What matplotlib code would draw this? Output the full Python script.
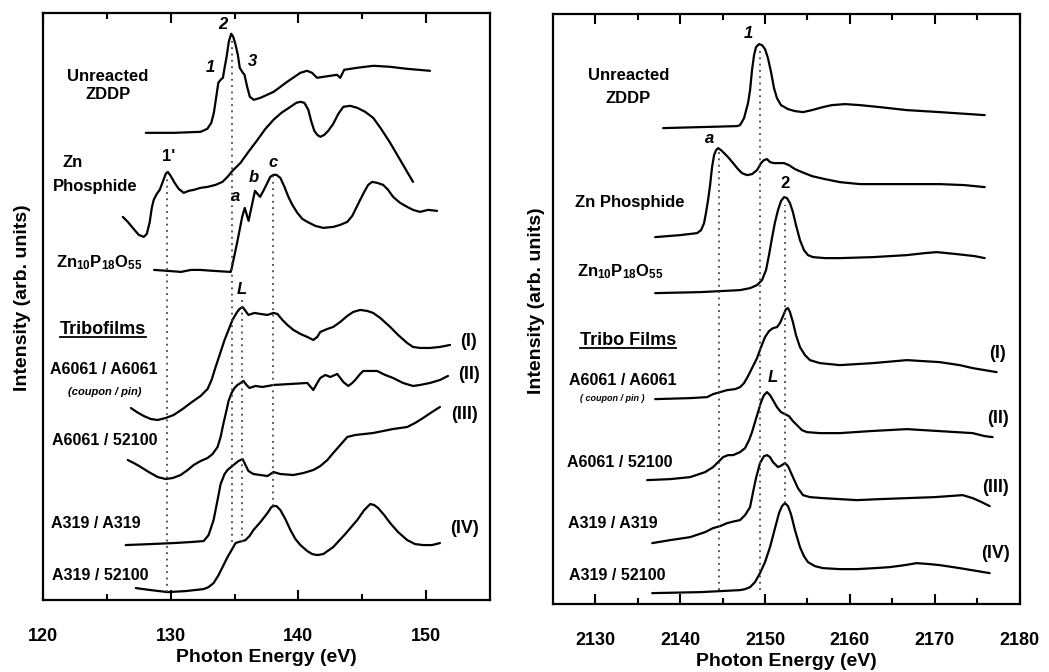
import matplotlib
matplotlib.use("Agg")
import matplotlib.pyplot as plt
from matplotlib.lines import Line2D

plt.rcParams['font.family'] = ['Liberation Sans', 'DejaVu Sans']
plt.rcParams['font.weight'] = 'bold'
plt.rcParams['mathtext.fontset'] = 'custom'
plt.rcParams['mathtext.rm'] = 'Liberation Sans:bold'
plt.rcParams['mathtext.bf'] = 'Liberation Sans:bold'
plt.rcParams['mathtext.it'] = 'Liberation Sans:italic:bold'

# ---------------- Left panel: P L-edge (energy eV, intensity arb. units) ----------------
zddpL_E = [128.05, 128.44, 130.26, 132.34, 132.87, 133.18, 133.38, 133.57, 133.73, 133.91, 134.09, 134.22,
           134.38, 134.55, 134.74, 134.90, 135.08, 135.26, 135.41, 135.60, 135.78, 135.99, 136.20, 136.51,
           137.03, 138.07, 139.12, 140.16, 140.68, 141.07, 141.46, 141.98, 142.5, 143.02, 143.28, 143.59,
           144.59, 145.88, 147.19, 148.49, 150.31]
zddpL_I = [467, 467, 467, 468, 471, 477, 487, 503, 517, 520, 522, 532,
           543, 558, 566, 563, 555, 545, 532, 528, 525, 513, 503, 500,
           502, 508, 518, 527, 529, 527, 522, 523, 524, 525, 522, 530,
           532, 534, 533, 531, 529]

phosL_E = [126.25, 126.64, 127.03, 127.5, 127.89, 128.13, 128.36, 128.52, 128.67, 128.91, 129.14, 129.38,
           129.61, 129.77, 130.0, 130.31, 130.63, 131.02, 131.41, 131.8, 132.34, 132.89, 133.52, 134.06,
           134.45, 134.84, 135.47, 136.09, 136.8, 137.42, 138.05, 138.67, 139.38, 139.84, 140.16, 140.47,
           140.78, 141.02, 141.25, 141.48, 141.72, 142.03, 142.34, 142.73, 143.13, 143.52, 144.06, 144.61,
           145.23, 145.86, 146.48, 147.19, 147.97, 148.52, 148.98]
phosL_I = [383, 378, 372, 365, 363, 366, 378, 392, 400, 406, 410, 418,
           426, 428, 424, 417, 411, 407, 409, 410, 412, 413, 415, 418,
           423, 429, 437, 448, 460, 471, 480, 487, 493, 497, 498, 497,
           490, 478, 469, 465, 463, 465, 469, 476, 486, 493, 494, 492,
           488, 482, 471, 457, 440, 428, 418]

znpoL_E = [128.7, 129.8, 130.8, 131.6, 132.3, 133.4, 134.7, 134.8, 135.2, 135.6, 135.8, 136.1, 136.5, 136.6,
           137.0, 137.3, 137.8, 138.05, 138.28, 138.59, 138.91, 139.22, 139.53, 139.92, 140.31, 140.7,
           141.33, 141.95, 142.73, 143.28, 143.83, 144.22, 144.53, 144.84, 145.16, 145.47, 145.78, 146.17,
           146.64, 147.03, 147.42, 147.97, 148.52, 148.98, 149.53, 150.16, 150.86]
znpoL_I = [330, 329, 328, 330, 330, 329, 328, 333, 357, 383, 392, 379, 403, 409,
           403, 410, 423, 425, 425, 422, 413, 403, 395, 387, 381, 378,
           374, 372, 373, 375, 378, 384, 392, 400, 408, 415, 418, 417,
           415, 410, 403, 397, 393, 390, 388, 390, 389]

film1L_E = [126.88, 127.34, 127.89, 128.44, 128.98, 129.61, 130.23, 130.94, 131.56, 132.34, 132.89, 133.2,
            133.52, 133.91, 134.22, 134.53, 134.84, 135.16, 135.39, 135.63, 135.86, 136.09, 136.56, 137.03,
            137.58, 138.05, 138.36, 138.75, 139.14, 139.61, 140.16, 140.7, 141.17, 141.48, 141.72, 142.27,
            142.73, 143.28, 143.83, 144.3, 144.84, 145.39, 145.86, 146.41, 147.19, 147.81, 148.52, 148.98,
            149.53, 150.31, 151.09, 151.88]
film1L_I = [192, 188, 184, 181, 180, 182, 185, 191, 197, 204, 211, 220,
            233, 248, 260, 270, 280, 287, 291, 293, 289, 285, 287, 286,
            285, 287, 286, 280, 275, 270, 266, 263, 260, 263, 268, 271,
            273, 278, 284, 288, 290, 289, 287, 282, 273, 265, 257, 253,
            252, 252, 253, 255]

film2L_E = [126.64, 127.11, 127.66, 128.28, 128.98, 129.61, 130.16, 130.78, 131.33, 131.8, 132.34, 132.89,
            133.28, 133.67, 133.91, 134.14, 134.38, 134.53, 134.77, 135.0, 135.23, 135.47, 135.7, 135.94,
            136.17, 136.64, 137.19, 138.05, 139.38, 140.7, 141.17, 141.48, 141.72, 142.11, 142.5, 143.05,
            143.52, 143.91, 144.22, 144.45, 144.84, 145.08, 145.63, 146.17, 146.8, 147.42, 148.2, 148.98,
            149.53, 150.31, 151.09, 151.72]
film2L_I = [140, 137, 133, 128, 123, 121, 122, 125, 130, 135, 139, 142,
            146, 153, 163, 177, 190, 199, 207, 212, 215, 217, 219, 215,
            212, 214, 213, 215, 216, 217, 210, 217, 222, 225, 223, 226,
            218, 214, 217, 220, 226, 229, 229, 229, 225, 222, 217, 214,
            215, 217, 220, 224]

film3L_E = [126.48, 128.44, 130.23, 131.56, 132.58, 132.97, 133.36, 133.67, 133.91, 134.22, 134.45, 134.92,
            135.31, 135.63, 135.86, 136.09, 136.48, 137.03, 137.58, 138.05, 138.59, 139.61, 140.39, 141.17,
            141.72, 142.27, 142.73, 143.28, 143.83, 144.45, 145.86, 147.42, 148.52, 149.14, 149.77, 150.47,
            151.09]
film3L_I = [55, 56, 57, 58, 59, 65, 80, 100, 116, 126, 130, 135,
            139, 141, 135, 129, 126, 125, 124, 128, 126, 125, 127, 130,
            134, 140, 147, 155, 163, 165, 167, 171, 173, 177, 182, 188,
            193]

film4L_E = [127.27, 128.44, 129.77, 131.17, 132.58, 132.97, 133.36, 133.75, 134.14, 134.45, 134.77, 135.08,
            135.31, 135.63, 135.86, 136.17, 136.48, 137.03, 137.58, 137.89, 138.05, 138.28, 138.59, 138.98,
            139.38, 139.77, 140.16, 140.7, 141.09, 141.48, 141.95, 142.73, 143.67, 144.61, 145.16, 145.63,
            145.94, 146.25, 146.72, 147.19, 147.81, 148.52, 149.14, 149.77, 150.47, 151.09]
film4L_I = [12, 10, 8, 9, 11, 13, 17, 25, 35, 43, 50, 57,
            58, 59, 60, 64, 70, 78, 87, 93, 94, 94, 90, 81,
            70, 61, 55, 49, 46, 45, 46, 53, 66, 80, 90, 96,
            95, 92, 85, 77, 68, 60, 56, 55, 55, 57]

dotL_E = [129.7, 134.8, 135.6, 138.0]
dotL_top = [425, 562, 300, 425]
dotL_bot = [8, 58, 58, 94]

# ---------------- Right panel: Zn L-edge ----------------
zddpR_E = [2138.0, 2142.35, 2146.71, 2147.06, 2147.53, 2148.0, 2148.24, 2148.47, 2148.71, 2148.94, 2149.29,
           2149.65, 2150.0, 2150.35, 2150.71, 2151.06, 2151.41, 2151.88, 2152.71, 2153.53, 2154.47, 2155.53,
           2156.82, 2157.88, 2159.41, 2161.18, 2163.53, 2166.71, 2170.59, 2175.88]
zddpR_I = [476, 477, 478, 479, 486, 501, 514, 534, 549, 557, 560,
           559, 555, 546, 532, 516, 506, 499, 495, 493, 492, 494,
           497, 499, 500, 499, 497, 494, 492, 489]

phosR_E = [2137.06, 2140.0, 2142.0, 2142.47, 2142.82, 2143.06, 2143.29, 2143.53, 2143.76, 2144.0, 2144.24,
           2144.47, 2144.82, 2145.18, 2145.65, 2146.24, 2146.82, 2147.29, 2147.88, 2148.47, 2149.06, 2149.53,
           2149.88, 2150.24, 2150.59, 2151.06, 2151.65, 2152.24, 2152.82, 2153.53, 2154.35, 2155.53, 2157.06,
           2158.82, 2161.18, 2163.53, 2167.06, 2170.59, 2173.53, 2175.88]
phosR_I = [367, 369, 371, 374, 381, 392, 404, 419, 437, 449, 454,
           456, 454, 451, 447, 441, 435, 431, 429, 430, 434, 441,
           444, 445, 442, 441, 441, 441, 439, 435, 432, 428, 425,
           422, 420, 420, 420, 420, 419, 417]

znpoR_E = [2137.06, 2142.35, 2147.06, 2148.24, 2149.06, 2149.65, 2150.12, 2150.47, 2150.82, 2151.18, 2151.53,
           2151.88, 2152.24, 2152.59, 2152.94, 2153.29, 2153.65, 2154.12, 2154.59, 2155.06, 2155.65, 2157.06,
           2158.82, 2162.71, 2166.71, 2168.82, 2170.24, 2172.59, 2174.71, 2175.88]
znpoR_I = [311, 312, 314, 316, 319, 324, 334, 349, 366, 382, 394,
           403, 407, 406, 401, 392, 379, 364, 354, 349, 347, 346,
           346, 347, 349, 351, 352, 350, 348, 346]

film1R_E = [2137.06, 2141.18, 2143.18, 2143.88, 2144.71, 2145.53, 2146.47, 2147.06, 2147.53, 2148.0, 2148.47,
            2149.06, 2149.53, 2150.0, 2150.47, 2150.94, 2151.41, 2151.76, 2152.12, 2152.47, 2152.71, 2152.94,
            2153.29, 2153.65, 2154.12, 2154.71, 2155.29, 2156.47, 2158.82, 2162.71, 2166.71, 2170.59, 2172.94,
            2174.47, 2177.29]
film1R_I = [205, 206, 207, 210, 212, 214, 215, 217, 221, 228, 236,
            246, 257, 267, 273, 276, 277, 281, 288, 295, 296, 292,
            282, 269, 257, 249, 244, 241, 239, 241, 244, 242, 239,
            236, 232]

film2R_E = [2136.12, 2138.82, 2141.18, 2142.94, 2143.88, 2144.47, 2145.06, 2145.65, 2146.24, 2147.06, 2147.65,
            2148.12, 2148.47, 2148.82, 2149.18, 2149.53, 2149.88, 2150.24, 2150.59, 2150.94, 2151.41, 2151.88,
            2152.35, 2152.82, 2153.29, 2153.76, 2154.35, 2154.94, 2156.47, 2158.82, 2162.35, 2166.71, 2170.59,
            2174.47, 2175.88, 2176.82]
film2R_I = [124, 125, 127, 132, 137, 142, 147, 149, 149, 152, 156,
            164, 172, 182, 192, 202, 209, 212, 209, 204, 197, 192,
            190, 188, 183, 179, 174, 172, 171, 171, 173, 175, 173,
            171, 168, 167]

film3R_E = [2136.71, 2138.82, 2141.18, 2142.94, 2143.88, 2144.71, 2145.53, 2146.47, 2147.06, 2147.65, 2148.24,
            2148.59, 2148.94, 2149.41, 2149.88, 2150.24, 2150.59, 2150.94, 2151.53, 2152.0, 2152.35, 2152.71,
            2153.29, 2153.88, 2154.47, 2155.29, 2156.82, 2160.82, 2163.53, 2166.71, 2170.0, 2173.29, 2174.47,
            2175.53, 2176.47]
film3R_I = [61, 64, 67, 72, 76, 78, 81, 83, 84, 89, 97,
            112, 126, 141, 148, 149, 147, 142, 137, 139, 141, 138,
            127, 116, 109, 107, 106, 104, 105, 106, 107, 109, 106,
            102, 98]

film4R_E = [2136.71, 2142.35, 2147.06, 2147.65, 2148.24, 2148.82, 2149.41, 2150.0, 2150.59, 2151.18, 2151.65,
            2152.0, 2152.35, 2152.71, 2153.06, 2153.53, 2154.12, 2154.59, 2155.06, 2155.88, 2156.82, 2158.82,
            2160.82, 2162.94, 2164.71, 2166.47, 2167.88, 2169.41, 2170.59, 2172.94, 2176.47]
film4R_I = [11, 12, 14, 15, 17, 22, 31, 42, 57, 76, 91,
            98, 101, 98, 90, 74, 57, 48, 42, 38, 36, 35,
            35, 36, 37, 39, 41, 40, 39, 36, 31]

dotR_E = [2144.6, 2149.4, 2152.35]
dotR_top = [454, 556, 399]
dotR_bot = [14, 14, 101]

fig = plt.figure(figsize=(10.49, 6.72), dpi=100)
axL = fig.add_axes([0.041, 0.107, 0.426, 0.874])
axR = fig.add_axes([0.527, 0.101, 0.445, 0.878])

LW = 1.6
kw = dict(color='black', lw=LW, solid_joinstyle='round', solid_capstyle='round')
for E, I in [(zddpL_E, zddpL_I), (phosL_E, phosL_I), (znpoL_E, znpoL_I), (film1L_E, film1L_I),
             (film2L_E, film2L_I), (film3L_E, film3L_I), (film4L_E, film4L_I)]:
    axL.plot(E, I, **kw)
for E, I in [(zddpR_E, zddpR_I), (phosR_E, phosR_I), (znpoR_E, znpoR_I), (film1R_E, film1R_I),
             (film2R_E, film2R_I), (film3R_E, film3R_I), (film4R_E, film4R_I)]:
    axR.plot(E, I, **kw)

axL.vlines(dotL_E, dotL_bot, dotL_top, colors='#444444', linestyles=(0, (1, 2.5)), lw=1.3)
axR.vlines(dotR_E, dotR_bot, dotR_top, colors='#444444', linestyles=(0, (1, 2.5)), lw=1.3)

axL.set_xlim(120, 155)
axL.set_ylim(0, 587)
axR.set_xlim(2125, 2180)
axR.set_ylim(0, 590)
axL.set_xticks([120, 130, 140, 150])
axL.set_xticks([125, 135, 145], minor=True)
axR.set_xticks([2130, 2140, 2150, 2160, 2170, 2180])
axR.set_xticks([2135, 2145, 2155, 2165, 2175], minor=True)

for ax in (axL, axR):
    ax.set_yticks([])
    for s in ax.spines.values():
        s.set_linewidth(1.6)
    ax.tick_params(axis='x', which='both', direction='in', top=True, bottom=True, width=1.5,
                   labelsize=13, pad=20)
    ax.tick_params(axis='x', which='major', length=7)
    ax.tick_params(axis='x', which='minor', length=4)
    ax.set_xlabel('Photon Energy (eV)', fontsize=14, fontweight='bold', labelpad=3)

fig.text(0.021, 0.557, 'Intensity (arb. units)', rotation=90, ha='center', va='center',
         fontsize=14, fontweight='bold')
fig.text(0.511, 0.553, 'Intensity (arb. units)', rotation=90, ha='center', va='center',
         fontsize=14, fontweight='bold')

def lab(ax, x, y, s, size=12, style='normal', ha='center'):
    return ax.text(x, y, s, fontsize=size, fontweight='bold', style=style, ha=ha, va='center')

# left labels
lab(axL, 125.1, 523, 'Unreacted')
lab(axL, 125.1, 505, 'ZDDP')
lab(axL, 133.1, 532, '1', 12, 'italic')
lab(axL, 134.1, 575, '2', 12, 'italic')
lab(axL, 136.4, 538, '3', 12, 'italic')
lab(axL, 122.3, 437, 'Zn')
lab(axL, 124.1, 413, 'Phosphide')
lab(axL, 129.8, 443, "1'", 12)
lab(axL, 135.1, 403, 'a', 12, 'italic')
lab(axL, 136.5, 422, 'b', 12, 'italic')
lab(axL, 138.05, 437, 'c', 12, 'italic')
lab(axL, 124.4, 337, r'Zn$_{10}$P$_{18}$O$_{55}$', 12)
lab(axL, 135.6, 310, 'L', 12, 'italic')
tL = lab(axL, 124.7, 270, 'Tribofilms', 13)
lab(axL, 153.3, 258, '(I)', 13)
lab(axL, 153.4, 225, '(II)', 13)
lab(axL, 153.0, 185, '(III)', 13)
lab(axL, 153.0, 72, '(IV)', 13)
lab(axL, 124.8, 230, 'A6061 / A6061', 11.5)
lab(axL, 124.8, 208, '(coupon / pin)', 8, 'italic')
lab(axL, 124.8, 160, 'A6061 / 52100', 11.5)
lab(axL, 124.1, 77, 'A319 / A319', 11.5)
lab(axL, 124.5, 25, 'A319 / 52100', 11.5)

# right labels
lab(axR, 2133.9, 529, 'Unreacted')
lab(axR, 2133.9, 506, 'ZDDP')
lab(axR, 2148.0, 571, '1', 12, 'italic')
lab(axR, 2143.5, 466, 'a', 12, 'italic')
lab(axR, 2152.35, 421, '2', 12)
lab(axR, 2134.1, 402, 'Zn Phosphide')
lab(axR, 2132.9, 332, r'Zn$_{10}$P$_{18}$O$_{55}$', 12)
tR = lab(axR, 2133.9, 264, 'Tribo Films', 13)
lab(axR, 2177.4, 251, '(I)', 13)
lab(axR, 2133.2, 224, 'A6061 / A6061', 11.5)
lab(axR, 2132.0, 206, '( coupon / pin )', 6.5, 'italic')
lab(axR, 2150.9, 227, 'L', 12, 'italic')
lab(axR, 2177.4, 186, '(II)', 13)
lab(axR, 2132.9, 142, 'A6061 / 52100', 11.5)
lab(axR, 2177.1, 117, '(III)', 13)
lab(axR, 2132.1, 81, 'A319 / A319', 11.5)
lab(axR, 2177.1, 51, '(IV)', 13)
lab(axR, 2132.6, 29, 'A319 / 52100', 11.5)

# underline for the "Tribofilms" headers
fig.canvas.draw()
r = fig.canvas.get_renderer()
inv = fig.transFigure.inverted()
for t in (tL, tR):
    bb = t.get_window_extent(renderer=r)
    (x0, y0), (x1, y1) = inv.transform([(bb.x0, bb.y0 + 1), (bb.x1, bb.y0 + 1)])
    fig.add_artist(Line2D([x0, x1], [y0, y1], transform=fig.transFigure, color='black', lw=1.3))

fig.savefig('out.png', dpi=100)
